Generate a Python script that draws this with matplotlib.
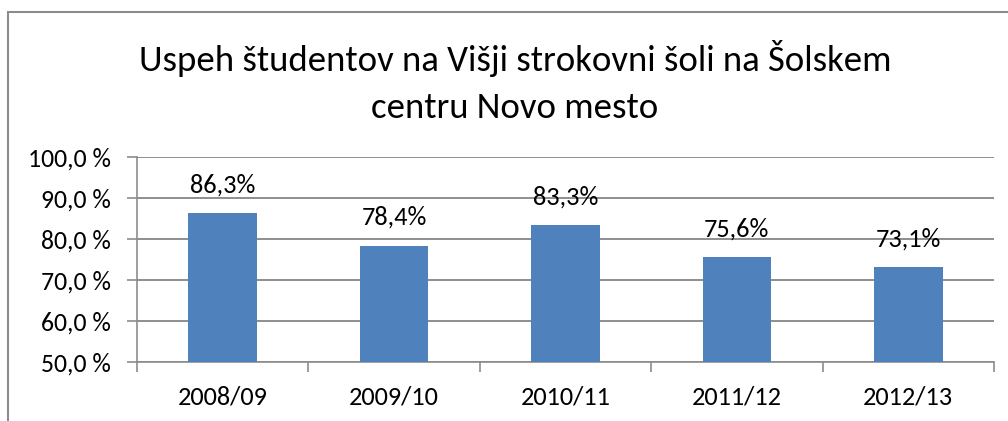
import matplotlib.pyplot as plt
from matplotlib.patches import Rectangle

# podatki
leta = ['2008/09', '2009/10', '2010/11', '2011/12', '2012/13']
uspeh = [86.3, 78.4, 83.3, 75.6, 73.1]
y_ticks = [50, 60, 70, 80, 90, 100]
y_labels = ['50,0 %', '60,0 %', '70,0 %', '80,0 %', '90,0 %', '100,0 %']
naslov = 'Uspeh študentov na Višji strokovni šoli na Šolskem\ncentru Novo mesto'

plt.rcParams['font.family'] = ['Carlito', 'Lato', 'DejaVu Sans']

W, H = 1008, 421
fig = plt.figure(figsize=(W / 100, H / 100), dpi=100)

# okvir grafikona
fig.patches.append(Rectangle((8 / W, -0.1), 1.2, 1.1 - 12 / H, transform=fig.transFigure,
                             fill=False, edgecolor='#8c8c8c', linewidth=1.5))

x0, x1, yb, yt = 137, 994, 362, 157
ax = fig.add_axes([x0 / W, (H - yb) / H, (x1 - x0) / W, (yb - yt) / H])

pos = range(len(leta))
ax.bar(pos, uspeh, width=0.4, color='#4f81bd', zorder=3)
for p, v in zip(pos, uspeh):
    ax.annotate(f'{v:.1f}%'.replace('.', ','), (p, v), xytext=(0, 12), textcoords='offset points',
                ha='center', va='bottom', fontsize=19)

ax.set_xlim(-0.5, len(leta) - 0.5)
ax.set_ylim(50, 100)
ax.set_yticks(y_ticks)
ax.set_yticklabels(y_labels, fontsize=18.5)
ax.set_xticks(list(pos))
ax.set_xticklabels(leta, fontsize=19)
ax.set_xticks([i - 0.5 for i in range(len(leta) + 1)], minor=True)
ax.tick_params(axis='x', which='major', length=0, pad=17)
ax.tick_params(axis='x', which='minor', length=7, width=1.2, color='#8c8c8c')
ax.tick_params(axis='y', length=7, width=1.2, color='#8c8c8c', pad=12)
ax.grid(axis='y', color='#868686', linewidth=1.3, zorder=0)
for s in ['top', 'right']:
    ax.spines[s].set_visible(False)
for s in ['left', 'bottom']:
    ax.spines[s].set_color('#8c8c8c')
    ax.spines[s].set_linewidth(1.2)

fig.text(515 / W, 1 - 82 / H, naslov, ha='center', va='center', fontsize=26.5, linespacing=1.6)

fig.savefig('out.png', dpi=100)
